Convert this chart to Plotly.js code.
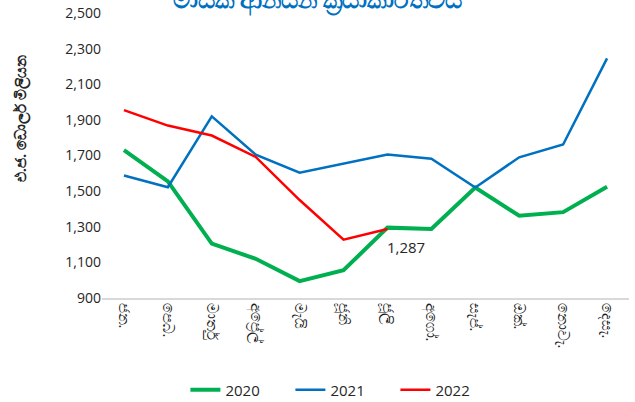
<!DOCTYPE html>
<html>
<head>
<meta charset="utf-8">
<script src="https://cdn.plot.ly/plotly-3.0.1.min.js"></script>
<style>html,body{margin:0;padding:0;background:#fff;}#chart{width:635px;height:402px;}</style>
</head>
<body>
<div id="chart"></div>
<script>
const months = ["ජන.", "පෙබ.", "මාර්තු", "අප්‍රේල්", "මැයි", "ජූනි", "ජූලි", "අගෝ.", "සැප්.", "ඔක්.", "නොවැ.", "දෙසැ."];
const y2020 = [1730, 1555, 1205, 1120, 995, 1056, 1295, 1287, 1520, 1362, 1382, 1525];
const y2021 = [1588, 1522, 1920, 1705, 1603, 1655, 1705, 1682, 1520, 1690, 1762, 2245];
const y2022 = [1955, 1868, 1812, 1692, 1450, 1227, 1287];
const labelIndex = 6;
const yTicks = [900, 1100, 1300, 1500, 1700, 1900, 2100, 2300, 2500];
const yTickText = yTicks.map(v => v.toLocaleString('en-US'));

const font = "'Open Sans', 'Noto Sans', sans-serif";

const traces = [
  {x: months, y: y2020, name: '2020', type: 'scatter', mode: 'lines',
   line: {color: '#00B050', width: 4}},
  {x: months, y: y2021, name: '2021', type: 'scatter', mode: 'lines',
   line: {color: '#0070C0', width: 2.5}},
  {x: months.slice(0, y2022.length), y: y2022, name: '2022', type: 'scatter', mode: 'lines',
   line: {color: '#FF0000', width: 2.5}}
];

const layout = {
  width: 635, height: 402,
  margin: {l: 102, r: 6, t: 13, b: 104},
  paper_bgcolor: '#fff', plot_bgcolor: '#fff',
  font: {family: font, color: '#262626', size: 13},
  title: {text: '<b>මාසික ආනයන ක්‍රියාකාරිත්වය</b>', x: 0.5, xanchor: 'center', y: 1, yref: 'container', yanchor: 'middle',
          font: {size: 24, color: '#0070C0', family: font}},
  showlegend: true,
  legend: {orientation: 'h', x: 0.54, xanchor: 'center', xref: 'container', y: 0.03, yref: 'container', yanchor: 'middle',
           entrywidth: 60, entrywidthmode: 'pixels',
           font: {size: 15, color: '#262626'}, traceorder: 'normal'},
  xaxis: {type: 'category', tickangle: 90, showgrid: false, zeroline: false,
          showline: true, linecolor: '#d9d9d9', linewidth: 1.5, ticks: '',
          tickfont: {size: 15, color: '#1a1a1a'}, range: [-0.5, 11.5], automargin: false},
  yaxis: {range: [900, 2500], tickvals: yTicks, ticktext: yTickText, showgrid: false,
          zeroline: false, showline: false, ticks: '', ticklen: 0,
          tickfont: {size: 14, color: '#262626'}, automargin: false},
  annotations: [
    {xref: 'paper', yref: 'paper', x: -0.154, y: 0.63, xanchor: 'center', yanchor: 'middle',
     text: '<b>එ.ජ. ඩොලර් මිලියන</b>', textangle: -90, showarrow: false,
     font: {size: 15, color: '#262626'}},
    {x: months[labelIndex], y: y2022[labelIndex], xref: 'x', yref: 'y', xanchor: 'left', yanchor: 'top',
     text: y2022[labelIndex].toLocaleString('en-US'), showarrow: false, yshift: -6, xshift: -2,
     font: {size: 15, color: '#262626'}}
  ]
};

Plotly.newPlot('chart', traces, layout, {displayModeBar: false, staticPlot: true});
</script>
</body>
</html>
